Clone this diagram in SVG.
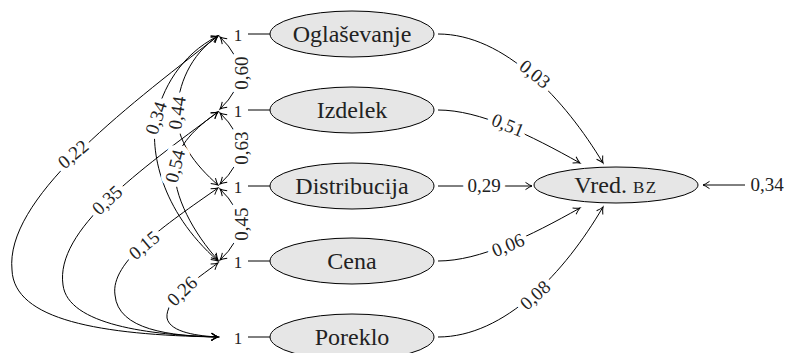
<svg xmlns="http://www.w3.org/2000/svg" width="787" height="353" viewBox="0 0 787 353">
<defs>
<marker id="ah" markerUnits="userSpaceOnUse" markerWidth="12" markerHeight="12" viewBox="-8 -6 10 12" refX="0" refY="0" orient="auto-start-reverse">
<path d="M -6.5,-3.6 Q -2.2,-0.6 0,0 Q -2.2,0.6 -6.5,3.6" fill="none" stroke="#000" stroke-width="1"/>
</marker>
<style>
.node ellipse{fill:#e6e6e6;stroke:#000;stroke-width:1}
.node text{font-family:"Liberation Serif","DejaVu Serif",serif;font-size:24px;fill:#222;text-anchor:middle}
.c path,.c line{fill:none;stroke:#000;stroke-width:1}
.one{marker-end:url(#ah)}
.two{marker-start:url(#ah);marker-end:url(#ah)}
.lbl{font-family:"Liberation Serif","DejaVu Serif",serif;font-size:19px;fill:#222;text-anchor:middle;dominant-baseline:central;stroke:#fff;stroke-width:10px;paint-order:stroke;stroke-linejoin:round}
.lbl1{font-family:"Liberation Serif","DejaVu Serif",serif;font-size:17px;fill:#222;text-anchor:middle;dominant-baseline:central}
</style>
</defs>
<g id="connectors" class="c">
<line x1="248" y1="34" x2="270" y2="34"/>
<line x1="248" y1="110" x2="270" y2="110"/>
<line x1="248" y1="186" x2="270" y2="186"/>
<line x1="248" y1="261" x2="270" y2="261"/>
<line x1="248" y1="337" x2="270" y2="337"/>
<text class="lbl1" x="238" y="35">1</text>
<text class="lbl1" x="238" y="111">1</text>
<text class="lbl1" x="238" y="187">1</text>
<text class="lbl1" x="238" y="262">1</text>
<text class="lbl1" x="238" y="338">1</text>
<path class="two" d="M 220,37 Q 258,73 220,109"/>
<path class="two" d="M 220,113 Q 258,149 220,184"/>
<path class="two" d="M 220,189 Q 258,225 220,260"/>
<path class="two" d="M 218,36 C 120,112 5,200 12,270 C 14,320 100,335 218,337"/>
<path class="two" d="M 218,112 C 140,170 55,230 63,285 C 68,325 150,335 218,337"/>
<path class="two" d="M 218,188 C 165,225 110,262 115,295 C 118,330 170,336 218,337"/>
<path class="two" d="M 218,263 C 195,280 165,300 167,318 C 170,333 200,336 218,337"/>
<path class="two" d="M 218,36 C 180,55 162,90 156,118 C 150,150 160,210 218,261"/>
<path class="two" d="M 218,36 C 190,55 178,85 177,113 C 176,140 195,165 218,185"/>
<path class="two" d="M 218,112 C 195,128 178,145 175,166 C 172,195 195,235 218,260"/>
<path class="one" d="M 438,34 C 505,34 565,100 603,163"/>
<path class="one" d="M 438,110 C 480,110 530,135 580,163"/>
<path class="one" d="M 438,186 L 532,186"/>
<path class="one" d="M 438,261 C 480,261 530,236 580,208"/>
<path class="one" d="M 438,337 C 505,337 565,272 603,207"/>
<path class="one" d="M 745,185 L 703,185"/>
<text class="lbl" transform="translate(241,73) rotate(-90)">0,60</text>
<text class="lbl" transform="translate(241,148) rotate(-90)">0,63</text>
<text class="lbl" transform="translate(241,224) rotate(-90)">0,45</text>
<text class="lbl" transform="translate(73,154) rotate(-40)">0,22</text>
<text class="lbl" transform="translate(107,200) rotate(-43)">0,35</text>
<text class="lbl" transform="translate(144,245) rotate(-40)">0,15</text>
<text class="lbl" transform="translate(182,291) rotate(-44)">0,26</text>
<text class="lbl" transform="translate(156,118) rotate(-72)">0,34</text>
<text class="lbl" transform="translate(177,113) rotate(-82)">0,44</text>
<text class="lbl" transform="translate(175,166) rotate(-76)">0,54</text>
<text class="lbl" transform="translate(535,74) rotate(39)">0,03</text>
<text class="lbl" transform="translate(508,125) rotate(22)">0,51</text>
<text class="lbl" x="484" y="185">0,29</text>
<text class="lbl" transform="translate(508,245) rotate(-22)">0,06</text>
<text class="lbl" transform="translate(535,295) rotate(-42)">0,08</text>
<text class="lbl" x="767" y="184">0,34</text>
</g>
<g id="node-oglasevanje" class="node"><ellipse cx="352" cy="34" rx="82" ry="23"/><text x="352" y="42">Oglaševanje</text></g>
<g id="node-izdelek" class="node"><ellipse cx="352" cy="110" rx="82" ry="23"/><text x="352" y="118">Izdelek</text></g>
<g id="node-distribucija" class="node"><ellipse cx="352" cy="186" rx="82" ry="23"/><text x="352" y="194">Distribucija</text></g>
<g id="node-cena" class="node"><ellipse cx="352" cy="261" rx="82" ry="23"/><text x="352" y="269">Cena</text></g>
<g id="node-poreklo" class="node"><ellipse cx="352" cy="337" rx="82" ry="23"/><text x="352" y="345">Poreklo</text></g>
<g id="node-vred" class="node"><ellipse cx="616" cy="185" rx="82" ry="18"/><text x="616" y="193">Vred. <tspan font-size="17" letter-spacing="1.5">BZ</tspan></text></g>
</svg>
